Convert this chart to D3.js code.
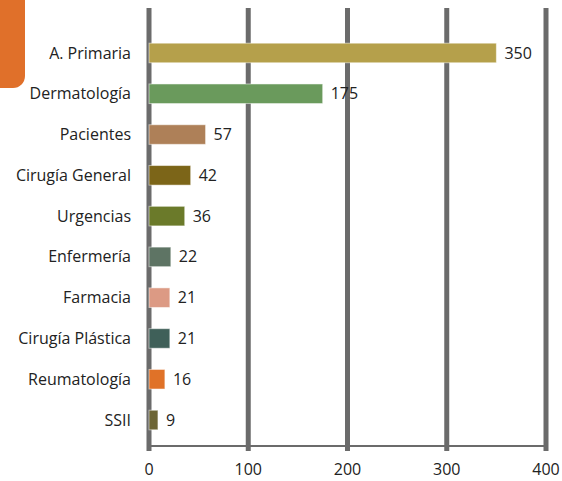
<!DOCTYPE html>
<html>
<head>
<meta charset="utf-8">
<script src="https://cdn.jsdelivr.net/npm/d3@7"></script>
<style>
  body { margin: 0; background: #fff; }
  svg text { font-family: "Open Sans", sans-serif; fill: #222; }
</style>
</head>
<body>
<svg id="chart" width="562" height="481"></svg>
<script>
// data
const categories = ['A. Primaria', 'Dermatología', 'Pacientes', 'Cirugía General', 'Urgencias',
  'Enfermería', 'Farmacia', 'Cirugía Plástica', 'Reumatología', 'SSII']
const values = [350, 175, 57, 42, 36, 22, 21, 21, 16, 9]
const barColors = ['#b5a04b', '#6a9a5c', '#ae8058', '#7c6518', '#6b7a2a',
  '#5e7464', '#dc9a84', '#3f6059', '#e07228', '#6d6535']
const xTicks = [0, 100, 200, 300, 400]

const svg = d3.select('#chart')

// orange tab in the corner
svg.append('path')
  .attr('d', 'M0,0 H25 V76 A12,12 0 0 1 13,88 H0 Z')
  .attr('fill', '#e0702a')

const x = d3.scaleLinear().domain([0, 400]).range([149, 546])
const y = d3.scaleBand().domain(categories).range([22.8, 450.2])
  .paddingInner(0.52).paddingOuter(0.5)

// grid lines
svg.selectAll('.grid')
  .data(xTicks)
  .enter()
  .append('line')
  .attr('x1', d => x(d)).attr('x2', d => x(d))
  .attr('y1', 8).attr('y2', 451)
  .attr('stroke', '#6b6b6b')
  .attr('stroke-width', 5)

svg.append('line')
  .attr('x1', x(0)).attr('x2', x(400))
  .attr('y1', 446).attr('y2', 446)
  .attr('stroke', '#6b6b6b')
  .attr('stroke-width', 2)

// bars
svg.selectAll('.bar')
  .data(values)
  .enter()
  .append('rect')
  .attr('x', x(0))
  .attr('y', (d, i) => y(categories[i]))
  .attr('width', d => x(d) - x(0))
  .attr('height', y.bandwidth())
  .attr('fill', (d, i) => barColors[i])
  .attr('stroke', 'rgba(255,255,255,0.5)')
  .attr('stroke-width', 1)

// value labels
svg.selectAll('.val')
  .data(values)
  .enter()
  .append('text')
  .attr('x', d => x(d) + 8)
  .attr('y', (d, i) => y(categories[i]) + y.bandwidth() / 2)
  .attr('dy', '0.35em')
  .attr('font-size', 16)
  .text(d => d)

// category labels
svg.selectAll('.cat')
  .data(categories)
  .enter()
  .append('text')
  .attr('x', 131)
  .attr('y', d => y(d) + y.bandwidth() / 2)
  .attr('dy', '0.35em')
  .attr('text-anchor', 'end')
  .attr('font-size', 16)
  .text(d => d)

// x tick labels
svg.selectAll('.tick')
  .data(xTicks)
  .enter()
  .append('text')
  .attr('x', d => x(d))
  .attr('y', 469)
  .attr('dy', '0.35em')
  .attr('text-anchor', 'middle')
  .attr('font-size', 16)
  .text(d => d)
</script>
</body>
</html>
